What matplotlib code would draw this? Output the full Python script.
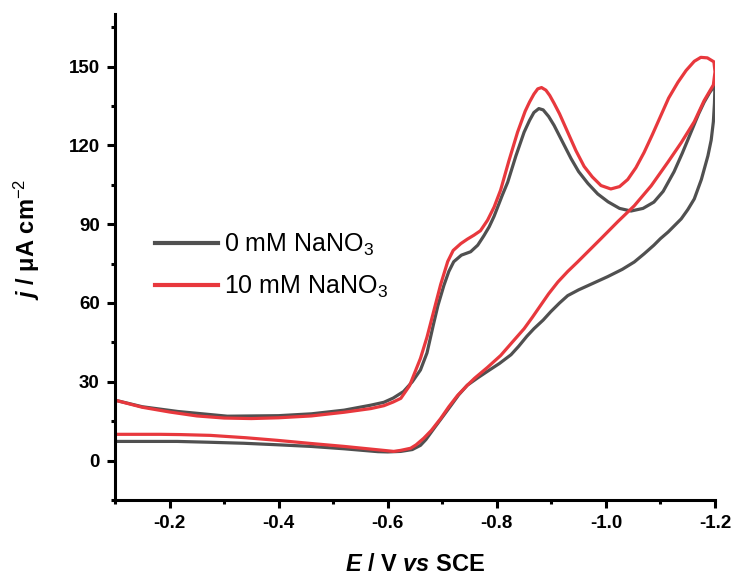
import matplotlib
matplotlib.use("Agg")
import matplotlib.pyplot as plt
from matplotlib.ticker import MultipleLocator

plt.rcParams['font.family'] = ['Liberation Sans', 'DejaVu Sans']
plt.rcParams['mathtext.fontset'] = 'custom'
plt.rcParams['mathtext.rm'] = 'Liberation Sans'
plt.rcParams['mathtext.it'] = 'Liberation Sans:italic'
plt.rcParams['mathtext.bf'] = 'Liberation Sans:bold'
plt.rcParams['mathtext.bfit'] = 'Liberation Sans:italic:bold'
plt.rcParams['axes.unicode_minus'] = False

# ---- data: 0 mM NaNO3 (gray) ----
E0_fwd = [-0.10, -0.15, -0.215, -0.306, -0.40, -0.46, -0.52, -0.569, -0.593, -0.61,
          -0.629, -0.645, -0.66, -0.672, -0.684, -0.692, -0.703, -0.712, -0.721, -0.735,
          -0.752, -0.765, -0.776, -0.786, -0.795, -0.81, -0.82, -0.835, -0.85, -0.86,
          -0.868, -0.877, -0.885, -0.895, -0.905, -0.92, -0.936, -0.95, -0.967, -0.985,
          -1.004, -1.025, -1.046, -1.068, -1.088, -1.105, -1.125, -1.14, -1.156, -1.17,
          -1.18, -1.19, -1.20]
j0_fwd = [23.0, 20.5, 18.7, 16.9, 17.1, 17.8, 19.2, 21.1, 22.2, 23.8,
          26.3, 30.0, 34.5, 41.0, 52.0, 59.0, 66.7, 72.0, 75.7, 78.2,
          79.5, 82.0, 85.5, 89.0, 93.0, 101.0, 106.0, 116.0, 125.0, 129.5,
          132.5, 134.0, 133.5, 131.0, 127.6, 121.5, 115.0, 110.0, 105.5, 101.5,
          98.5, 96.0, 95.0, 96.0, 98.4, 102.5, 110.0, 117.0, 125.0, 132.0,
          136.4, 140.0, 143.0]
E0_rev = [-1.20, -1.199, -1.197, -1.193, -1.187, -1.175, -1.162, -1.15, -1.138, -1.114,
          -1.10, -1.088, -1.07, -1.052, -1.03, -1.003, -0.985, -0.967, -0.95, -0.93,
          -0.915, -0.899, -0.885, -0.868, -0.855, -0.84, -0.826, -0.805, -0.783, -0.765,
          -0.746, -0.73, -0.716, -0.70, -0.685, -0.67, -0.66, -0.645, -0.624, -0.60,
          -0.582, -0.52, -0.459, -0.40, -0.336, -0.27, -0.214, -0.15, -0.10]
j0_rev = [143.0, 136.0, 129.0, 122.0, 116.0, 107.0, 99.6, 95.5, 92.0, 87.0,
          84.5, 82.0, 78.7, 75.6, 72.8, 70.0, 68.3, 66.6, 65.0, 62.8,
          60.0, 56.7, 53.5, 50.2, 47.3, 43.5, 40.3, 37.0, 34.0, 31.5,
          28.7, 25.0, 21.0, 16.5, 12.3, 8.0, 5.8, 4.2, 3.5, 3.3,
          3.4, 4.5, 5.4, 6.0, 6.6, 7.0, 7.3, 7.3, 7.3]

# ---- data: 10 mM NaNO3 (red) ----
E10_fwd = [-0.10, -0.15, -0.20, -0.25, -0.30, -0.35, -0.40, -0.46, -0.52, -0.569,
           -0.593, -0.61, -0.624, -0.64, -0.66, -0.672, -0.684, -0.697, -0.71, -0.72,
           -0.734, -0.746, -0.758, -0.77, -0.783, -0.795, -0.807, -0.822, -0.838, -0.852,
           -0.86, -0.868, -0.875, -0.882, -0.89, -0.897, -0.905, -0.915, -0.93, -0.945,
           -0.96, -0.975, -0.991, -1.009, -1.025, -1.04, -1.055, -1.07, -1.085, -1.10,
           -1.115, -1.132, -1.147, -1.162, -1.174, -1.186, -1.198]
j10_fwd = [23.0, 20.3, 18.5, 17.0, 16.2, 16.0, 16.3, 17.0, 18.4, 19.8,
           20.9, 22.3, 23.7, 28.5, 38.9, 47.0, 56.6, 67.0, 75.8, 80.0,
           82.6, 84.3, 85.8, 87.5, 91.5, 96.5, 103.0, 114.0, 125.0, 133.0,
           136.5, 139.5, 141.5, 142.0, 141.0, 139.0, 136.0, 132.0, 125.0, 118.0,
           112.0, 108.0, 104.7, 103.4, 104.3, 107.0, 111.5, 117.3, 124.0, 131.0,
           138.0, 144.0, 148.5, 152.0, 153.5, 153.3, 151.8]
E10_rev = [-1.198, -1.20, -1.197, -1.18, -1.162, -1.138, -1.114, -1.083, -1.052, -1.022,
           -0.991, -0.948, -0.93, -0.912, -0.895, -0.88, -0.865, -0.85, -0.828, -0.807,
           -0.783, -0.759, -0.745, -0.728, -0.712, -0.697, -0.68, -0.666, -0.652, -0.642,
           -0.624, -0.611, -0.52, -0.46, -0.398, -0.34, -0.275, -0.22, -0.183, -0.10]
j10_rev = [151.8, 148.0, 143.0, 137.0, 129.0, 121.0, 113.7, 104.6, 97.0, 91.0,
           84.5, 75.6, 72.0, 68.0, 63.5, 59.0, 54.5, 50.2, 45.0, 40.0,
           35.5, 31.3, 28.5, 24.8, 20.5, 16.0, 11.5, 8.5, 6.0, 4.7,
           3.9, 3.5, 5.4, 6.5, 7.7, 8.7, 9.6, 9.9, 10.0, 10.0]

labels = ["0 mM NaNO$_3$", "10 mM NaNO$_3$"]
colors = ["#505050", "#e8383d"]

fig = plt.figure(figsize=(7.35, 5.77), dpi=100)
ax = fig.add_axes([115/735, 1-500/577, 600/735, 486/577])

ax.plot(E0_fwd + E0_rev, j0_fwd + j0_rev, color=colors[0], lw=2.3, label=labels[0],
        solid_joinstyle='round')
ax.plot(E10_fwd + E10_rev, j10_fwd + j10_rev, color=colors[1], lw=2.3, label=labels[1],
        solid_joinstyle='round')

ax.set_xlim(-0.1, -1.2)
ax.set_ylim(-15, 170)
ax.xaxis.set_minor_locator(MultipleLocator(0.1))
ax.set_yticks([0, 30, 60, 90, 120, 150])
ax.set_yticks([-15, 15, 45, 75, 105, 135, 165], minor=True)
ax.set_xticks([-0.2, -0.4, -0.6, -0.8, -1.0, -1.2])
ax.set_xticklabels(["-0.2", "-0.4", "-0.6", "-0.8", "-1.0", "-1.2"])

for s in ['top', 'right']:
    ax.spines[s].set_visible(False)
for s in ['left', 'bottom']:
    ax.spines[s].set_linewidth(2.2)

ax.tick_params(which='major', direction='out', length=6, width=2.2, labelsize=13.5, pad=5)
ax.tick_params(which='minor', direction='out', length=3, width=2.2)
for lab in ax.get_xticklabels() + ax.get_yticklabels():
    lab.set_fontweight('bold')

ax.set_xlabel(r"$\mathbfit{E}$ / V $\mathbfit{vs}$ SCE", fontsize=17, fontweight='bold')
ax.xaxis.label.set_va('baseline')
ax.xaxis.set_label_coords(0.5, -0.146)
ax.set_ylabel(r"$\mathbfit{j}$ / μA cm$^{-2}$", fontsize=17, fontweight='bold')
ax.yaxis.set_label_coords(-0.122, 0.537)

leg = ax.legend(loc='upper left', bbox_to_anchor=(0.067, 0.552), frameon=False,
                fontsize=18, handlelength=2.5, handletextpad=0.25, labelspacing=0.65,
                borderpad=0, borderaxespad=0)
for line in leg.get_lines():
    line.set_linewidth(3)

fig.savefig("out.png", dpi=100)
